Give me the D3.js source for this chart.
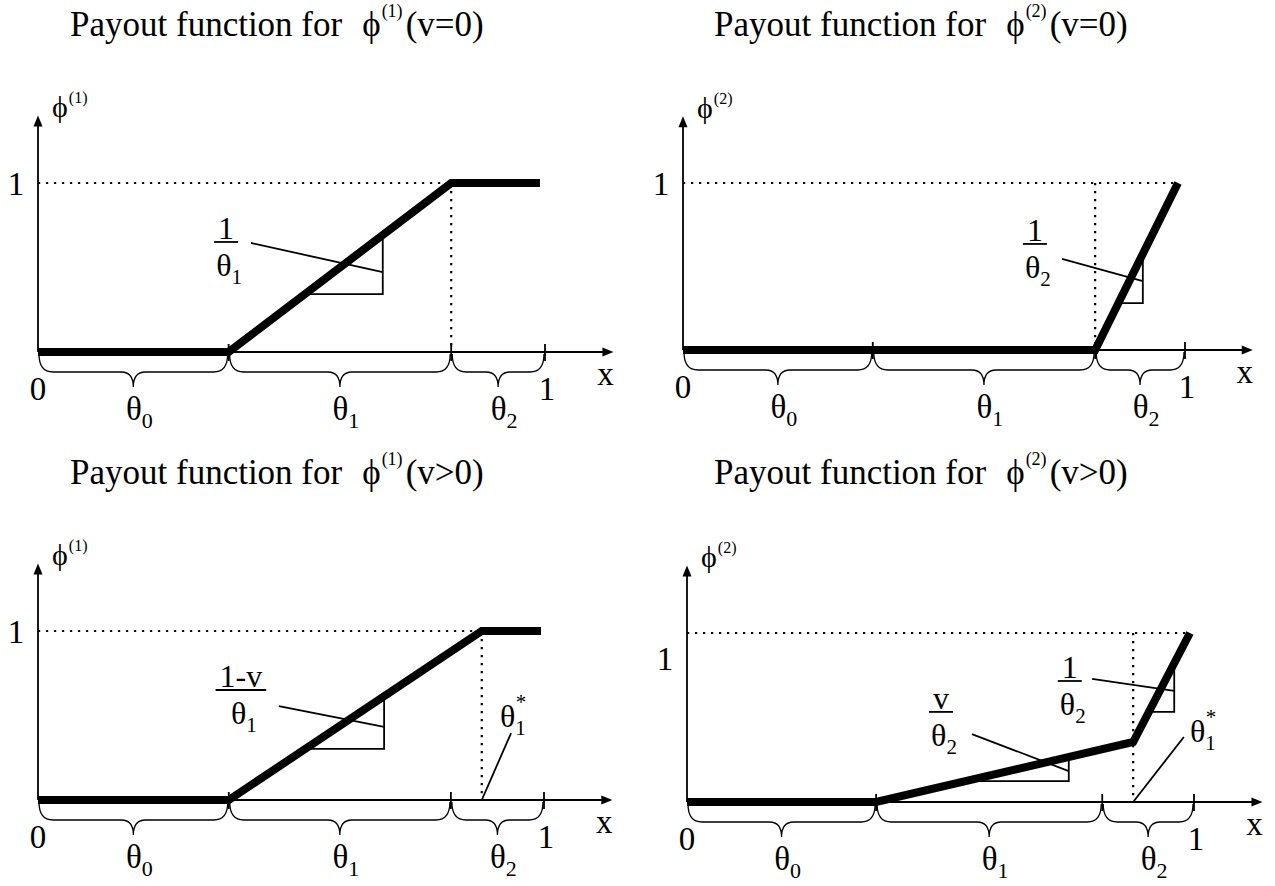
<!DOCTYPE html>
<html>
<head>
<meta charset="utf-8">
<script src="https://cdnjs.cloudflare.com/ajax/libs/d3/7.8.5/d3.min.js"></script>
<style>
  body { margin: 0; background: #fff; }
  text { font-family: "Liberation Serif", "Times New Roman", serif; fill: #000; }
</style>
</head>
<body>
<svg width="1275" height="886"></svg>
<script>
// Titles: phi index and condition on v
const titleSup = ["(1)", "(2)", "(1)", "(2)"];
const titleCond = ["(v=0)", "(v=0)", "(v>0)", "(v>0)"];

// Payout curves, x = share in [0,1], y = payout
const curves = [
  [[0, 0], [0.376, 0], [0.815, 1], [0.990, 1]],
  [[0, 0], [0.378, 0], [0.821, 0], [0.986, 1]],
  [[0, 0], [0.377, 0], [0.877, 1], [0.994, 1]],
  [[0, 0], [0.373, 0], [0.880, 0.355], [0.992, 1]]
];

// theta_0 | theta_1 | theta_2 interval bounds
const thetaBounds = [
  [0, 0.376, 0.815, 1],
  [0, 0.378, 0.821, 1],
  [0, 0.377, 0.816, 1],
  [0, 0.373, 0.819, 1]
];
const thetaSubs = ["0", "1", "2"];

// where the "1" y label sits (bottom right one is drawn lower)
const yLabelAt = [1, 1, 1, 0.852];

// slope annotations (data units)
const slopes = [
  { p: 0, num: "1",   den: "1", seg: 1, bar: [0.371, 0.651], tri: [0.680, 0.343], lead: [[0.420, 0.645], [0.680, 0.473]] },
  { p: 1, num: "1",   den: "2", seg: 2, bar: [0.701, 0.635], tri: [0.916, 0.281], lead: [[0.755, 0.545], [0.916, 0.413]] },
  { p: 2, num: "1-v", den: "1", seg: 1, bar: [0.401, 0.651], tri: [0.684, 0.302], lead: [[0.476, 0.556], [0.684, 0.432]] },
  { p: 3, num: "1",   den: "2", seg: 2, bar: [0.755, 0.716], tri: [0.961, 0.533], lead: [[0.799, 0.728], [0.961, 0.657]] },
  { p: 3, num: "v",   den: "2", seg: 1, bar: [0.501, 0.533], tri: [0.753, 0.124], lead: [[0.562, 0.402], [0.753, 0.183]] }
];

// theta_1^* markers
const stars = [
  { p: 2, at: [0.913, 0.432], lead: [0.935, 0.396] },
  { p: 3, at: [0.992, 0.355], lead: [0.980, 0.385] }
];

// panel placement in pixels
const layout = [
  { x0: 38,  x1: 545,  y0: 352, y1: 183, tx: 70,  ty: 36 },
  { x0: 683, x1: 1185, y0: 350, y1: 183, tx: 714, ty: 36 },
  { x0: 38,  x1: 544,  y0: 800, y1: 631, tx: 70,  ty: 484 },
  { x0: 687, x1: 1194, y0: 802, y1: 633, tx: 714, ty: 484 }
];

const svg = d3.select("svg");
const xTip = 1.135, yTip = 1.40;

function brace(xa, xb, yt) {
  const h = 18, r = 14, r2 = 12, t = 15, xm = (xa + xb) / 2;
  return `M${xa},${yt} Q${xa},${yt + h} ${xa + r},${yt + h} L${xm - r2},${yt + h}` +
         ` Q${xm},${yt + h} ${xm},${yt + h + t} Q${xm},${yt + h} ${xm + r2},${yt + h}` +
         ` L${xb - r},${yt + h} Q${xb},${yt + h} ${xb},${yt}`;
}

const scales = layout.map(L => ({
  x: d3.scaleLinear().domain([0, 1]).range([L.x0, L.x1]),
  y: d3.scaleLinear().domain([0, 1]).range([L.y0, L.y1])
}));

layout.forEach((L, i) => {
  const { x, y } = scales[i];
  const g = svg.append("g");
  const c = curves[i];

  // title
  const t = g.append("text").attr("x", L.tx).attr("y", L.ty).attr("font-size", 35);
  t.append("tspan").text("Payout function for");
  t.append("tspan").attr("dx", 20).text("\u03D5");
  t.append("tspan").attr("font-size", 18).attr("dx", 1).attr("dy", -19).text(titleSup[i]);
  t.append("tspan").attr("dx", 3).attr("dy", 19).text(titleCond[i]);

  // dotted guides
  const top = c.find(d => d[1] === 1);
  g.append("line")
    .attr("x1", x(0)).attr("x2", x(top[0])).attr("y1", y(1)).attr("y2", y(1))
    .attr("stroke", "#000").attr("stroke-width", 2.2).attr("stroke-dasharray", "2.2,5.8");
  g.append("line")
    .attr("x1", x(c[2][0])).attr("x2", x(c[2][0])).attr("y1", y(1)).attr("y2", y(0))
    .attr("stroke", "#000").attr("stroke-width", 2.2).attr("stroke-dasharray", "2.2,5.8");

  // axes
  g.append("line").attr("x1", x(0)).attr("x2", x(xTip) - 8).attr("y1", y(0)).attr("y2", y(0))
    .attr("stroke", "#000").attr("stroke-width", 1.8);
  g.append("path")
    .attr("d", `M${x(xTip)},${y(0)} L${x(xTip) - 11},${y(0) - 4.5} L${x(xTip) - 11},${y(0) + 4.5} Z`);
  g.append("line").attr("x1", x(0)).attr("x2", x(0)).attr("y1", y(0)).attr("y2", y(yTip) + 8)
    .attr("stroke", "#000").attr("stroke-width", 1.8);
  g.append("path")
    .attr("d", `M${x(0)},${y(yTip)} L${x(0) - 4.5},${y(yTip) + 11} L${x(0) + 4.5},${y(yTip) + 11} Z`);

  // ticks at interval bounds
  g.selectAll(".tick").data(thetaBounds[i].slice(1)).join("line")
    .attr("x1", d => x(d)).attr("x2", d => x(d))
    .attr("y1", y(0) - 8).attr("y2", y(0) + 9)
    .attr("stroke", "#000").attr("stroke-width", 1.8);

  // braces and theta labels
  const b = thetaBounds[i];
  const spans = d3.range(3).map(k => [b[k], b[k + 1]]);
  g.selectAll(".brace").data(spans).join("path")
    .attr("d", d => brace(x(d[0]) + 1, x(d[1]) - 1, y(0) + 2))
    .attr("fill", "none").attr("stroke", "#000").attr("stroke-width", 1.3);
  const tl = g.selectAll(".tlab").data(spans).join("text")
    .attr("x", d => (x(d[0]) + x(d[1])) / 2 + 6).attr("y", y(0) + 68)
    .attr("text-anchor", "middle").attr("font-size", 33);
  tl.append("tspan").text("\u03B8");
  tl.append("tspan").attr("font-size", 22).attr("dy", 8).text((d, k) => thetaSubs[k]);

  // axis labels
  g.append("text").attr("x", x(0)).attr("y", y(0) + 48).attr("text-anchor", "middle")
    .attr("font-size", 33).text("0");
  g.append("text").attr("x", x(1) + 2).attr("y", y(0) + 48).attr("text-anchor", "middle")
    .attr("font-size", 33).text("1");
  g.append("text").attr("x", x(xTip) - 8).attr("y", y(0) + 33).attr("text-anchor", "middle")
    .attr("font-size", 33).text("x");
  g.append("text").attr("x", x(0) - 22).attr("y", y(yLabelAt[i]) + 12).attr("text-anchor", "middle")
    .attr("font-size", 33).text("1");
  const ph = g.append("text").attr("x", x(0) + 14).attr("y", y(1.39)).attr("font-size", 30);
  ph.append("tspan").text("\u03D5");
  ph.append("tspan").attr("font-size", 16).attr("dx", 1).attr("dy", -14).text(titleSup[i]);

  // payout curve
  g.append("path").datum(c)
    .attr("d", d3.line().x(d => x(d[0])).y(d => y(d[1])))
    .attr("fill", "none").attr("stroke", "#000").attr("stroke-width", 8)
    .attr("stroke-linejoin", "miter");
});

// slope triangles and fraction labels
slopes.forEach(s => {
  const { x, y } = scales[s.p];
  const c = curves[s.p];
  const a = c[s.seg], e = c[s.seg + 1];
  const yAt = v => a[1] + (v - a[0]) * (e[1] - a[1]) / (e[0] - a[0]);
  const xAt = v => a[0] + (v - a[1]) * (e[0] - a[0]) / (e[1] - a[1]);
  const g = svg.append("g");
  g.append("path")
    .attr("d", `M${x(xAt(s.tri[1]))},${y(s.tri[1])} L${x(s.tri[0])},${y(s.tri[1])} L${x(s.tri[0])},${y(yAt(s.tri[0]))}`)
    .attr("fill", "none").attr("stroke", "#000").attr("stroke-width", 1.8);
  g.append("line")
    .attr("x1", x(s.lead[0][0])).attr("y1", y(s.lead[0][1]))
    .attr("x2", x(s.lead[1][0])).attr("y2", y(s.lead[1][1]))
    .attr("stroke", "#000").attr("stroke-width", 1.8);
  const bx = x(s.bar[0]), by = y(s.bar[1]);
  const num = g.append("text").attr("x", bx).attr("y", by - 3).attr("text-anchor", "middle")
    .attr("font-size", 32).text(s.num);
  const w = num.node().getComputedTextLength() + 8;
  g.append("line").attr("x1", bx - w / 2).attr("x2", bx + w / 2).attr("y1", by).attr("y2", by)
    .attr("stroke", "#000").attr("stroke-width", 1.8);
  const den = g.append("text").attr("x", bx + 3).attr("y", by + 34).attr("text-anchor", "middle")
    .attr("font-size", 32);
  den.append("tspan").text("\u03B8");
  den.append("tspan").attr("font-size", 21).attr("dy", 8).text(s.den);
});

// theta_1^* labels
stars.forEach(s => {
  const { x, y } = scales[s.p];
  const kx = curves[s.p][2][0];
  const g = svg.append("g");
  g.append("line").attr("x1", x(kx)).attr("y1", y(0)).attr("x2", x(s.lead[0])).attr("y2", y(s.lead[1]))
    .attr("stroke", "#000").attr("stroke-width", 1.8);
  const t = g.append("text").attr("x", x(s.at[0])).attr("y", y(s.at[1])).attr("font-size", 32);
  t.append("tspan").text("\u03B8");
  t.append("tspan").attr("font-size", 21).attr("dy", 8).text("1");
  t.append("tspan").attr("font-size", 21).attr("dx", -10).attr("dy", -26).text("*");
});
</script>
</body>
</html>
